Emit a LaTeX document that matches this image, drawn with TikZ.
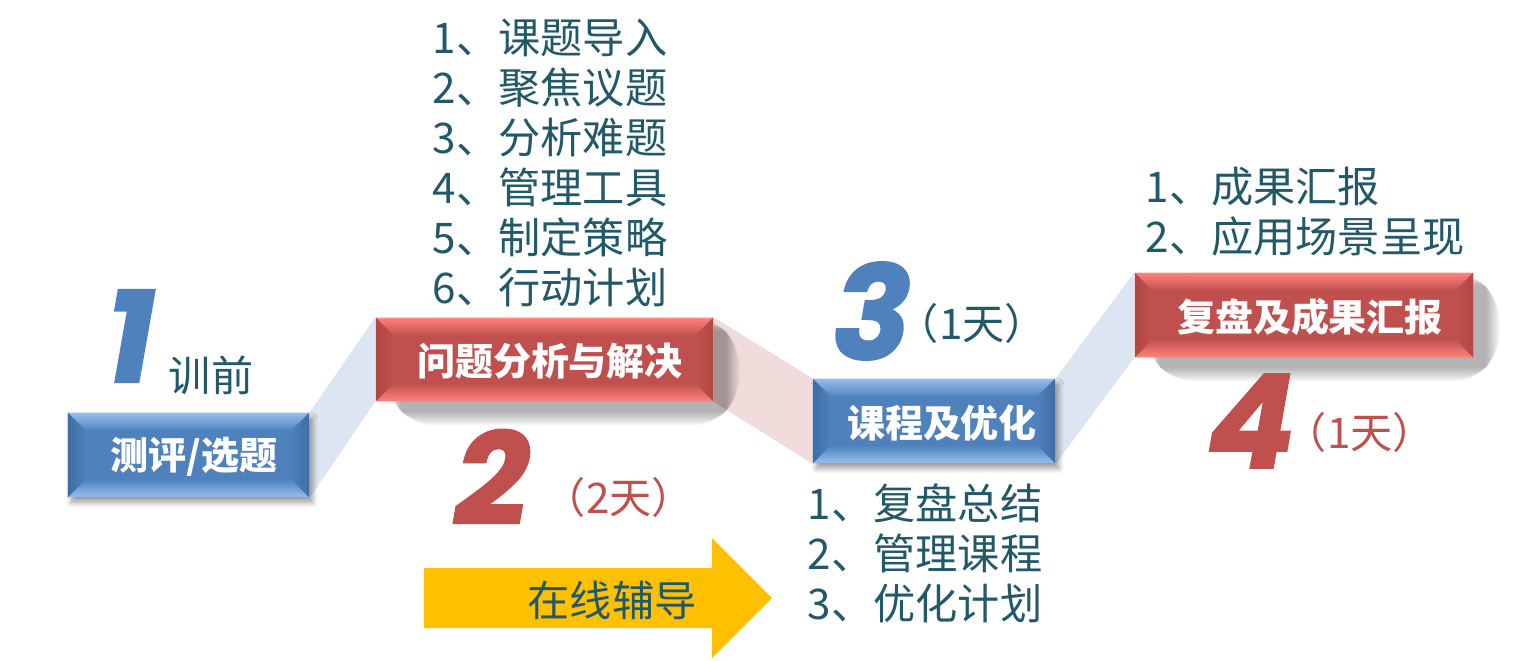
\documentclass[tikz,border=0pt]{standalone}
\usepackage{fontspec}
\setmainfont{Noto Sans CJK SC}
\newfontfamily\numfont{Poppins}[BoldItalicFeatures={FakeBold=1.5}]
\usetikzlibrary{calc,shadows.blur}
\definecolor{stepblue}{HTML}{4F81BD}
\definecolor{stepbluelight}{HTML}{96BDEB}
\definecolor{stepbluedark}{HTML}{3F6CA3}
\definecolor{stepred}{HTML}{C0504D}
\definecolor{stepredlight}{HTML}{FF817C}
\definecolor{stepreddark}{HTML}{B24744}
\definecolor{textteal}{HTML}{215968}
\definecolor{bandblue}{HTML}{DCE6F2}
\definecolor{bandpink}{HTML}{F2DCDB}
\definecolor{arrowyellow}{HTML}{FFC000}
\pgfdeclarelayer{background}
\pgfdeclarelayer{shadow}
\pgfsetlayers{background,shadow,main}
\tikzset{
  bevel/.style n args={3}{fill=#1, path picture={
      \path (path picture bounding box.north west) coordinate (bnw)
            (path picture bounding box.south east) coordinate (bse);
      \fill[top color=#2, bottom color=#1] (bnw) -- (bnw -| bse) -- ($(bnw -| bse)+(-18,18)$) -- ($(bnw)+(18,18)$) -- cycle;
      \fill[top color=#1, bottom color=#2] ($(bnw |- bse)+(18,-18)$) -- ($(bse)+(-18,-18)$) -- (bse) -- (bnw |- bse) -- cycle;
      \fill[left color=#3, right color=#1] (bnw) -- ($(bnw)+(18,18)$) -- ($(bnw |- bse)+(18,-18)$) -- (bnw |- bse) -- cycle;
      \fill[left color=#1, right color=#3] ($(bnw -| bse)+(-18,18)$) -- (bnw -| bse) -- (bse) -- ($(bse)+(-18,-18)$) -- cycle;
    }},
  bluebox/.style={bevel={stepblue}{stepbluelight}{stepbluedark},
    blur shadow={shadow xshift=1pt, shadow yshift=-1.5pt, shadow blur radius=1.5pt, shadow opacity=40, shadow blur steps=10}},
  redbox/.style={bevel={stepred}{stepredlight}{stepreddark}},
  softshadow/.style={fill=black, opacity=0.024, rounded corners=#1},
  title/.style={text=white, font=\fontsize{10.8}{13}\selectfont\bfseries, inner sep=0pt},
  bignum/.style={font=\numfont\fontsize{37}{40}\selectfont\bfseries\itshape, inner sep=0pt},
  txt/.style={text=textteal, font=\fontsize{12}{14.2}\selectfont, inner sep=0pt, align=left},
}
\begin{document}
\begin{tikzpicture}[x=0.01cm, y=-0.01cm]
  \useasboundingbox (0,0) rectangle (1532,660);
  \node[bluebox, minimum width=2.41cm, minimum height=0.84cm] (select) at (188.5,455) {};
  \node[title] at (194,457) {测评/选题};
  \node[redbox, minimum width=3.37cm, minimum height=0.83cm] (analysis) at (544.5,359.5) {};
  \node[title] at (550,361) {问题分析与解决};
  \node[bluebox, minimum width=2.42cm, minimum height=0.84cm] (course) at (934,421) {};
  \node[title] at (942,423) {课程及优化};
  \node[redbox, minimum width=3.38cm, minimum height=0.84cm] (report) at (1304,315) {};
  \node[title] at (1310,317) {复盘及成果汇报};
  \begin{pgfonlayer}{background}
    \fill[bandblue] (select.north east) -- (analysis.north west) -- (analysis.south west) -- (select.south east) -- cycle;
    \fill[bandpink] (analysis.north east) -- (course.north west) -- (course.south west) -- (analysis.south east) -- cycle;
    \fill[bandblue] (course.north east) -- (report.north west) -- (report.south west) -- (course.south east) -- cycle;
  \end{pgfonlayer}
  \begin{pgfonlayer}{shadow}
    \foreach \i in {0,...,14} {
      \fill[softshadow=\i] ($(analysis.north west)+(26-\i,14-\i)$) rectangle ($(analysis.south east)+(12+\i,10+\i)$);
      \fill[softshadow=\i] ($(report.north west)+(26-\i,14-\i)$) rectangle ($(report.south east)+(12+\i,10+\i)$);
    }
  \end{pgfonlayer}
  \node[bignum, text=stepblue] (one) at (130,336) {1};
  \node[txt] (pre) at (211,375) {训前};
  \node[bignum, text=stepred] (two) at (492,477) {2};
  \node[txt, text=stepred] (twodays) at (619,497) {（2天）};
  \node[bignum, text=stepblue] (three) at (872,311) {3};
  \node[txt] (threedays) at (972,323) {（1天）};
  \node[bignum, text=stepred] (four) at (1251,421) {4};
  \node[txt, text=stepred] (fourdays) at (1360,432) {（1天）};
  \node[txt] (tasks) at (550,163) {1、课题导入\\2、聚焦议题\\3、分析难题\\4、管理工具\\5、制定策略\\6、行动计划};
  \node[txt] (results) at (1305,212) {1、成果汇报\\2、应用场景呈现};
  \node[txt] (review) at (925,553) {1、复盘总结\\2、管理课程\\3、优化计划};
  \fill[arrowyellow] (424,568) -- (712,568) -- (712,538) -- (772,598) -- (712,658) -- (712,628) -- (424,628) -- cycle;
  \node[txt] (online) at (612,600) {在线辅导};
\end{tikzpicture}
\end{document}
